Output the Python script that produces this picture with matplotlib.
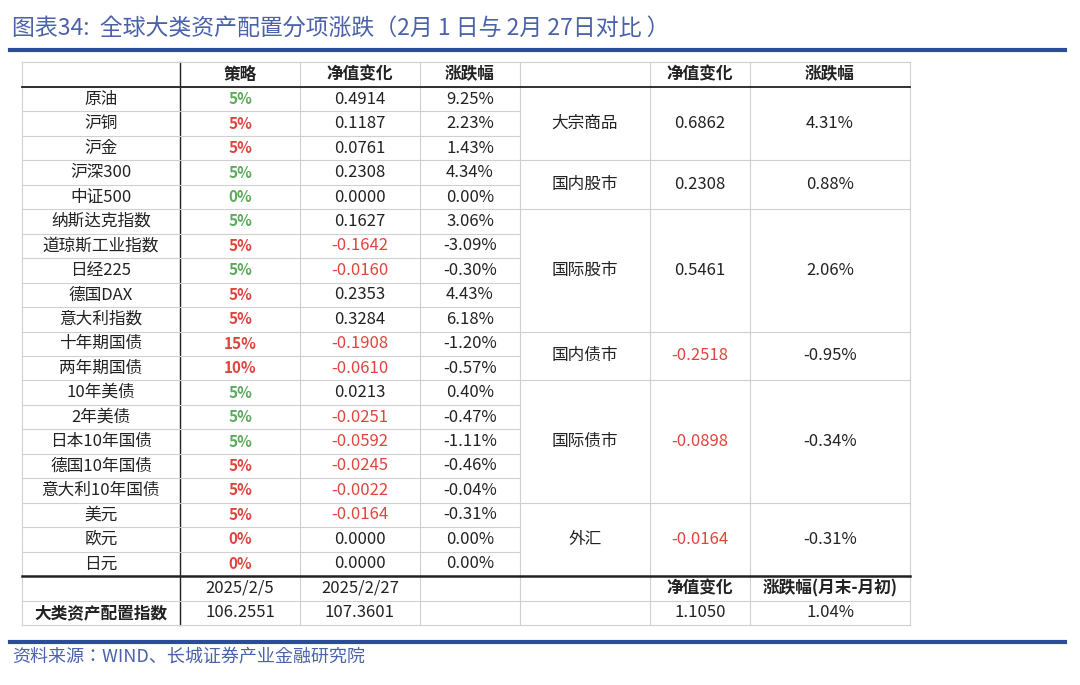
import matplotlib
matplotlib.use("Agg")
import matplotlib.pyplot as plt
from matplotlib import font_manager

cjk_names = sorted({f.name for f in font_manager.fontManager.ttflist if "CJK" in f.name})
cjk = next((n for n in cjk_names if "SC" in n), cjk_names[0] if cjk_names else "DejaVu Sans")
plt.rcParams["font.family"] = [cjk, "DejaVu Sans"]

TITLE = "图表34:  全球大类资产配置分项涨跌（2月 1 日与 2月 27日对比 ）"
SOURCE = "资料来源：WIND、长城证券产业金融研究院"

assets = ["原油", "沪铜", "沪金", "沪深300", "中证500", "纳斯达克指数", "道琼斯工业指数",
          "日经225", "德国DAX", "意大利指数", "十年期国债", "两年期国债", "10年美债", "2年美债",
          "日本10年国债", "德国10年国债", "意大利10年国债", "美元", "欧元", "日元"]
strategy = ["5%", "5%", "5%", "5%", "0%", "5%", "5%", "5%", "5%", "5%", "15%", "10%",
            "5%", "5%", "5%", "5%", "5%", "5%", "0%", "0%"]
strategy_up = [1, 0, 0, 1, 1, 1, 0, 1, 0, 0, 0, 0, 1, 1, 1, 0, 0, 0, 0, 0]
net_change = [0.4914, 0.1187, 0.0761, 0.2308, 0.0000, 0.1627, -0.1642, -0.0160, 0.2353,
              0.3284, -0.1908, -0.0610, 0.0213, -0.0251, -0.0592, -0.0245, -0.0022,
              -0.0164, 0.0000, 0.0000]
pct_change = ["9.25%", "2.23%", "1.43%", "4.34%", "0.00%", "3.06%", "-3.09%", "-0.30%",
              "4.43%", "6.18%", "-1.20%", "-0.57%", "0.40%", "-0.47%", "-1.11%", "-0.46%",
              "-0.04%", "-0.31%", "0.00%", "0.00%"]

groups = ["大宗商品", "国内股市", "国际股市", "国内债市", "国际债市", "外汇"]
group_sizes = [3, 2, 5, 2, 5, 3]
group_net = [0.6862, 0.2308, 0.5461, -0.2518, -0.0898, -0.0164]
group_pct = ["4.31%", "0.88%", "2.06%", "-0.95%", "-0.34%", "-0.31%"]

dates = ["2025/2/5", "2025/2/27"]
index_vals = ["106.2551", "107.3601"]
index_change = "1.1050"
index_pct = "1.04%"

GREEN = "#5aac5a"
RED = "#e0443c"
BLUE = "#2b4c9b"
GRID = "#d0d0d0"
BLACK = "#222222"

fig = plt.figure(figsize=(10.8, 6.85), dpi=100)
ax = fig.add_axes([0, 0, 1, 1])
ax.set_xlim(0, 1080)
ax.set_ylim(685, 0)
ax.axis("off")

# title and source
ax.text(12, 28, TITLE, fontsize=16.5, color="#4a62aa", va="center", ha="left")
ax.plot([10, 1065], [50, 50], color=BLUE, lw=3)
ax.plot([10, 1065], [642, 642], color=BLUE, lw=3)
ax.text(12, 657, SOURCE, fontsize=13, color="#4a62aa", va="center", ha="left")

# geometry
x_edges = [22, 180, 300, 420, 520, 650, 750, 910]
cx = [(a + b) / 2 for a, b in zip(x_edges[:-1], x_edges[1:])]
top, head_h, row_h = 62, 25, 24.45
y0 = top + head_h
rows_y = [y0 + row_h * (i + 0.5) for i in range(len(assets))]
y_end = y0 + row_h * len(assets)
foot_h = 24.5

fs = 12
# header
for x, t in [(cx[1], "策略"), (cx[2], "净值变化"), (cx[3], "涨跌幅"), (cx[5], "净值变化"), (cx[6], "涨跌幅")]:
    ax.text(x, top + head_h / 2, t, fontsize=fs, fontweight="bold", ha="center", va="center", color=BLACK)

# vertical grid lines
for x in x_edges:
    ax.plot([x, x], [top, y_end + 2 * foot_h], color=GRID, lw=0.8)
ax.plot([180, 180], [top, y_end + 2 * foot_h], color=BLACK, lw=1)

# horizontal lines in left part
for i in range(len(assets) + 1):
    y = y0 + row_h * i
    ax.plot([22, 520], [y, y], color=GRID, lw=0.8)
ax.plot([22, 910], [top, top], color=GRID, lw=0.8)
ax.plot([22, 910], [y0, y0], color=BLACK, lw=1.3)
ax.plot([22, 910], [y_end + foot_h, y_end + foot_h], color=GRID, lw=0.8)
ax.plot([22, 910], [y_end + 2 * foot_h, y_end + 2 * foot_h], color=GRID, lw=0.8)

# rows
for i, name in enumerate(assets):
    y = rows_y[i]
    ax.text(cx[0], y, name, fontsize=fs, ha="center", va="center", color=BLACK)
    ax.text(cx[1], y, strategy[i], fontsize=fs - 1, fontweight="bold", ha="center", va="center",
            color=GREEN if strategy_up[i] else RED)
    ax.text(cx[2], y, f"{net_change[i]:.4f}", fontsize=fs, ha="center", va="center",
            color=RED if net_change[i] < 0 else BLACK)
    ax.text(cx[3], y, pct_change[i], fontsize=fs, ha="center", va="center", color=BLACK)

# groups
start = 0
for g, n, nv, pc in zip(groups, group_sizes, group_net, group_pct):
    ya = y0 + row_h * start
    yb = y0 + row_h * (start + n)
    ym = (ya + yb) / 2
    ax.plot([520, 910], [yb, yb], color=GRID, lw=0.8)
    ax.text(cx[4], ym, g, fontsize=fs, ha="center", va="center", color=BLACK)
    ax.text(cx[5], ym, f"{nv:.4f}", fontsize=fs, ha="center", va="center",
            color=RED if nv < 0 else BLACK)
    ax.text(cx[6], ym, pc, fontsize=fs, ha="center", va="center", color=BLACK)
    start += n
ax.plot([22, 910], [y_end, y_end], color=BLACK, lw=1.8)

# footer rows
yf1 = y_end + foot_h / 2
yf2 = y_end + foot_h * 1.5
ax.text(240, yf1, dates[0], fontsize=fs, ha="center", va="center", color=BLACK)
ax.text(360, yf1, dates[1], fontsize=fs, ha="center", va="center", color=BLACK)
ax.text(cx[5], yf1, "净值变化", fontsize=fs, fontweight="bold", ha="center", va="center", color=BLACK)
ax.text(cx[6], yf1, "涨跌幅(月末-月初)", fontsize=fs, fontweight="bold", ha="center", va="center", color=BLACK)
ax.text(cx[0], yf2, "大类资产配置指数", fontsize=fs, fontweight="bold", ha="center", va="center", color=BLACK)
ax.text(240, yf2, index_vals[0], fontsize=fs, ha="center", va="center", color=BLACK)
ax.text(360, yf2, index_vals[1], fontsize=fs, ha="center", va="center", color=BLACK)
ax.text(cx[5], yf2, index_change, fontsize=fs, ha="center", va="center", color=BLACK)
ax.text(cx[6], yf2, index_pct, fontsize=fs, ha="center", va="center", color=BLACK)

fig.savefig("out.png", dpi=100)
